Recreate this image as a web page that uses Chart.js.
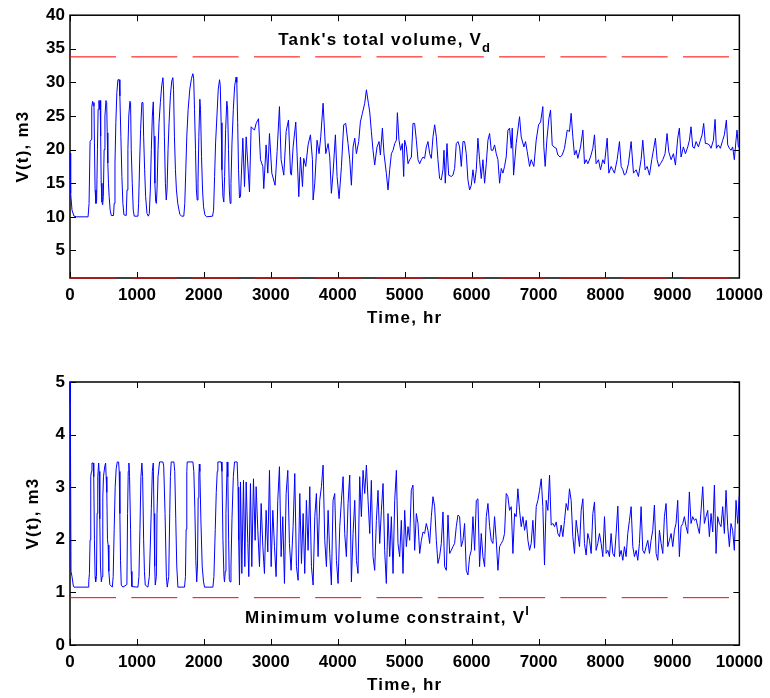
<!DOCTYPE html>
<html lang="en">
  <head>
    <meta charset="utf-8" />
    <title>Tank volume</title>
    <style>
      * { margin: 0; padding: 0; }
      body { background: #fff; width: 770px; height: 698px; overflow: hidden; }
      canvas { display: block; }
    </style>
  </head>
  <body>
    <canvas id="topChart" width="770" height="349"></canvas>
    <canvas id="bottomChart" width="770" height="349"></canvas>

    <script src="https://cdn.jsdelivr.net/npm/chart.js"></script>

    <script>
      // ticks
      const hourTicks = [0, 1000, 2000, 3000, 4000, 5000, 6000, 7000, 8000, 9000, 10000];
      const topTicks = [5, 10, 15, 20, 25, 30, 35, 40];
      const bottomTicks = [0, 1, 2, 3, 4, 5];

      // constraint levels, m3
      const totalVolume = 33.8;
      const minVolume = 0.9;

      // [hour, V(t)]
      const topVolume = [
        [0,19.5],[10,13.5],[30,11],[60,10.1],[100,10],[270,10],[285,12],[300,21.2],[318,21.5],[325,26.3],
        [338,27.2],[350,26.5],[358,27],[365,21],[375,14],[388,12],[398,12.5],[410,20],[420,26],[433,27.3],
        [440,26],[450,27.3],[458,22],[466,15],[478,12.2],[488,11.8],[498,13],[510,20],[522,25],[537,27.3],
        [548,27],[556,22.5],[565,18],[575,15],[585,13],[600,11],[617,10.2],[650,10.2],[660,12],[672,18],
        [685,24],[700,28.5],[716,30.4],[736,30.4],[745,28],[760,22],[775,16],[790,12],[806,10.3],[840,10.2],
        [852,14],[865,20],[878,25],[895,27.2],[905,27],[915,20],[930,15],[945,11],[960,10.1],[1015,10.1],
        [1025,12],[1040,18],[1055,23],[1074,27],[1090,27],[1100,22],[1115,17],[1130,13],[1150,10.5],[1170,10.1],
        [1185,10.5],[1200,14],[1215,20],[1230,25],[1244,27.1],[1255,22],[1268,15],[1280,12.3],[1290,12],[1300,14],
        [1315,20],[1330,24],[1350,27],[1370,29.5],[1388,30.7],[1398,29],[1410,22],[1425,15],[1438,12.5],[1450,14],
        [1465,20],[1480,24],[1500,28],[1520,30.2],[1537,30.7],[1547,29],[1560,22],[1575,17],[1590,14],[1610,12],
        [1640,10.4],[1665,10.1],[1700,10.1],[1715,12],[1730,17],[1745,22],[1765,26],[1790,29],[1815,30.6],[1836,31.3],
        [1848,30.5],[1860,26],[1875,20],[1888,14],[1900,12.5],[1912,15],[1925,22],[1940,27.5],[1950,26],[1965,19],
        [1980,14],[1995,11.5],[2015,10.3],[2040,10],[2130,10.1],[2145,11],[2160,16],[2175,21],[2195,25],[2215,29],
        [2234,30.4],[2245,29.5],[2258,24],[2270,17],[2285,13],[2298,12.2],[2310,16],[2325,23],[2343,27.2],[2355,26],
        [2368,20],[2380,14],[2393,12],[2405,15],[2420,21],[2440,26],[2460,29.5],[2482,30.8],[2492,30],[2505,24],
        [2518,17],[2532,12.8],[2547,13.0],[2582,21.7],[2607,14.5],[2632,21.9],[2681,13.7],[2706,23.4],[2756,22.9],[2781,23.9],
        [2816,24.6],[2846,18.5],[2881,17.5],[2895,14.2],[2930,20.7],[2955,16.5],[2980,22.4],[3015,16.5],[3064,14.7],[3094,19.7],
        [3129,26.4],[3154,18.5],[3194,16.2],[3229,22.7],[3264,24.4],[3294,16.5],[3308,16.2],[3333,20.4],[3373,24.1],[3418,13.0],
        [3443,18.9],[3473,14.5],[3492,18.7],[3522,17.5],[3557,20.7],[3592,22.2],[3622,18.5],[3632,12.5],[3657,15.0],[3691,21.4],
        [3721,19.4],[3746,21.9],[3781,26.9],[3796,24.1],[3821,19.4],[3856,20.9],[3881,18.9],[3905,13.5],[3930,16.5],[3965,22.2],
        [3990,16.0],[4020,12.7],[4055,17.5],[4089,23.7],[4119,23.9],[4154,20.9],[4179,18.5],[4204,14.7],[4229,20.4],[4254,21.7],
        [4279,19.4],[4313,21.2],[4338,24.1],[4368,25.4],[4403,26.9],[4428,28.9],[4458,26.9],[4478,25.6],[4502,22.7],[4527,19.9],
        [4552,17.7],[4567,18.9],[4587,20.4],[4617,21.2],[4637,19.2],[4667,23.2],[4691,19.4],[4726,16.5],[4751,14.0],[4776,17.0],
        [4801,19.4],[4826,19.9],[4851,20.9],[4876,21.4],[4891,25.5],[4915,21.4],[4940,19.9],[4965,20.9],[4985,16.0],[5000,21.4],
        [5025,20.4],[5050,17.9],[5075,18.5],[5100,18.9],[5124,23.9],[5149,23.9],[5174,21.4],[5199,18.5],[5224,17.9],[5249,18.5],
        [5274,18.9],[5298,18.7],[5323,20.4],[5348,21.2],[5373,19.4],[5398,18.7],[5423,21.9],[5448,23.7],[5473,21.9],[5497,18.5],
        [5522,15.7],[5547,15.5],[5572,17.0],[5587,19.9],[5607,15.0],[5632,20.9],[5657,16.2],[5696,16.0],[5721,16.2],[5746,17.2],
        [5771,20.9],[5796,21.2],[5821,20.4],[5846,17.5],[5871,21.2],[5895,21.2],[5920,19.4],[5945,15.5],[5970,14.0],[5995,14.7],
        [6020,17.0],[6045,15.0],[6070,17.0],[6094,21.7],[6119,18.5],[6144,15.7],[6169,18.5],[6194,15.0],[6219,17.9],[6244,21.4],
        [6269,22.4],[6293,19.9],[6318,19.9],[6343,20.7],[6368,19.4],[6393,18.5],[6418,15.0],[6443,17.2],[6468,16.5],[6492,17.5],
        [6517,18.9],[6542,22.9],[6567,23.2],[6592,20.2],[6607,23.2],[6627,16.2],[6666,20.9],[6716,24.9],[6741,21.9],[6781,20.4],
        [6806,21.2],[6831,19.7],[6866,17.5],[6890,18.5],[6930,17.5],[6965,21.4],[7000,23.7],[7030,24.1],[7064,26.4],[7079,20.4],
        [7099,17.5],[7124,21.4],[7154,24.6],[7179,25.9],[7204,20.7],[7229,20.4],[7264,20.2],[7288,19.2],[7323,18.9],[7353,19.2],
        [7388,20.2],[7428,22.9],[7462,22.7],[7487,25.4],[7512,21.9],[7537,19.2],[7562,19.9],[7587,18.7],[7627,20.4],[7662,22.9],
        [7686,17.9],[7711,18.5],[7736,17.9],[7776,18.9],[7811,20.2],[7836,22.2],[7860,17.9],[7895,18.5],[7925,17.0],[7960,18.5],
        [7985,17.9],[8025,21.7],[8050,16.5],[8084,17.5],[8109,17.0],[8134,16.5],[8174,18.5],[8209,21.2],[8234,17.5],[8259,17.0],
        [8283,16.2],[8308,16.5],[8343,17.9],[8383,21.2],[8418,16.5],[8458,17.0],[8492,16.0],[8532,18.5],[8557,21.4],[8592,17.0],
        [8622,17.5],[8657,16.2],[8691,18.5],[8721,20.2],[8746,21.7],[8771,18.5],[8796,17.5],[8821,17.9],[8856,18.5],[8890,19.4],
        [8920,22.4],[8945,19.7],[8980,18.5],[9015,19.4],[9045,17.7],[9079,21.7],[9104,23.2],[9129,18.9],[9164,20.4],[9194,19.4],
        [9229,20.4],[9254,21.4],[9278,23.4],[9303,20.4],[9328,20.2],[9353,21.2],[9388,20.4],[9418,21.4],[9443,22.2],[9467,23.9],
        [9492,20.9],[9517,20.9],[9552,20.7],[9577,20.2],[9612,21.4],[9637,24.5],[9657,20.2],[9686,20.7],[9716,20.2],[9751,21.4],
        [9776,22.2],[9806,24.4],[9826,20.7],[9851,20.2],[9875,19.9],[9900,20.4],[9925,18.5],[9950,21.4],[9965,22.9],[9985,20.4],
        [10000,20.5]
      ];

      // [hour, V(t)]
      const bottomVolume = [
        [0,5.0],[5,4.6],[15,1.4],[30,1.3],[50,1.12],[60,1.1],[270,1.1],[280,1.2],[290,1.36],[300,2.0],
        [310,3.2],[320,3.3],[328,3.46],[348,3.46],[355,3.2],[365,2.0],[375,1.3],[383,1.2],[395,1.3],[405,2.5],
        [415,3.2],[428,3.46],[435,3.3],[445,2.4],[455,1.5],[468,1.2],[480,1.3],[490,2.8],[500,3.2],[520,3.4],
        [532,3.46],[540,3.2],[550,2.9],[560,2.0],[570,1.9],[580,1.4],[595,1.15],[632,1.1],[645,1.3],[660,2.2],
        [675,3.0],[690,3.35],[706,3.48],[726,3.48],[735,3.3],[745,2.5],[755,1.6],[766,1.14],[791,1.1],[850,1.15],
        [860,2.5],[870,3.3],[880,3.46],[890,3.2],[905,2.2],[915,1.4],[925,1.11],[1015,1.1],[1030,1.3],[1045,2.2],
        [1060,3.2],[1074,3.46],[1085,3.2],[1100,2.0],[1112,1.4],[1124,1.14],[1164,1.1],[1185,1.3],[1200,1.9],[1215,2.6],
        [1230,3.3],[1244,3.46],[1255,2.5],[1265,1.5],[1274,1.14],[1290,1.3],[1300,2.5],[1315,3.2],[1338,3.48],[1388,3.48],
        [1400,3.4],[1420,2.5],[1440,1.3],[1453,1.1],[1475,1.3],[1490,2.5],[1500,3.2],[1512,3.48],[1552,3.48],[1565,3.3],
        [1580,2.4],[1595,1.5],[1612,1.1],[1711,1.1],[1725,1.3],[1735,2.2],[1745,3.3],[1751,3.48],[1836,3.48],[1850,3.3],
        [1865,2.6],[1880,1.6],[1893,1.2],[1905,1.5],[1915,2.8],[1925,3.2],[1932,3.44],[1940,3.3],[1955,2.4],[1975,1.5],
        [1995,1.2],[2010,1.1],[2135,1.1],[2150,1.3],[2170,2.2],[2185,2.9],[2200,3.3],[2209,3.48],[2259,3.48],[2270,3.3],
        [2285,2.0],[2300,1.3],[2308,1.2],[2320,1.4],[2330,2.5],[2348,3.48],[2358,3.2],[2370,2.0],[2380,1.25],[2392,1.2],
        [2405,1.5],[2420,2.4],[2440,3.2],[2458,3.48],[2497,3.48],[2510,3.0],[2520,2.0],[2532,1.14],[2547,3.10],[2567,1.36],
        [2592,3.13],[2612,1.49],[2632,3.10],[2657,1.93],[2671,1.30],[2696,3.07],[2716,1.49],[2741,3.16],[2766,1.99],[2781,3.01],
        [2806,2.18],[2831,1.49],[2856,2.69],[2881,1.87],[2905,1.36],[2930,2.56],[2955,1.77],[2980,3.32],[3005,1.49],[3030,2.56],
        [3055,1.87],[3079,1.30],[3104,2.75],[3129,3.39],[3154,1.68],[3179,2.44],[3204,1.17],[3229,2.88],[3254,3.32],[3278,1.93],
        [3303,1.42],[3333,2.25],[3358,3.26],[3383,1.49],[3408,1.23],[3433,2.88],[3458,1.55],[3483,2.50],[3507,1.36],[3532,2.75],
        [3557,1.80],[3582,3.01],[3607,1.49],[3632,1.14],[3657,2.44],[3681,2.88],[3706,1.68],[3731,2.75],[3756,3.01],[3781,3.42],
        [3806,1.99],[3831,1.49],[3856,2.56],[3881,1.74],[3905,1.14],[3930,2.75],[3955,2.88],[3980,1.61],[4005,1.17],[4030,2.25],
        [4055,2.75],[4080,3.20],[4104,2.12],[4129,1.68],[4154,2.69],[4179,3.23],[4204,1.20],[4229,2.12],[4254,2.75],[4279,1.61],
        [4303,1.36],[4328,3.20],[4353,2.44],[4378,3.32],[4403,2.88],[4428,3.42],[4453,2.75],[4478,2.12],[4502,3.13],[4527,1.68],
        [4552,1.42],[4577,2.37],[4602,2.94],[4627,1.93],[4652,2.56],[4677,3.07],[4701,1.80],[4726,1.17],[4751,2.50],[4776,1.68],
        [4801,2.44],[4826,1.36],[4851,2.75],[4876,3.32],[4900,1.93],[4925,1.68],[4950,2.37],[4975,1.36],[5000,2.56],[5025,1.87],
        [5050,2.25],[5075,1.99],[5099,2.94],[5124,3.04],[5149,1.80],[5174,2.50],[5199,2.31],[5224,1.74],[5249,1.99],[5274,2.15],
        [5298,2.12],[5323,2.31],[5348,2.18],[5373,1.93],[5398,2.44],[5423,2.82],[5448,2.63],[5473,1.99],[5497,1.55],[5522,1.68],
        [5547,1.93],[5572,2.53],[5597,1.49],[5622,1.42],[5647,2.47],[5672,1.74],[5696,1.80],[5721,1.87],[5746,1.93],[5771,2.25],
        [5796,2.47],[5821,2.44],[5846,1.87],[5871,1.99],[5895,2.31],[5920,1.42],[5945,1.33],[5970,1.68],[5995,1.80],[6020,2.44],
        [6045,1.80],[6070,2.75],[6094,2.78],[6119,1.49],[6144,2.12],[6169,1.68],[6194,1.49],[6219,2.44],[6244,2.69],[6269,2.25],
        [6293,1.99],[6318,1.93],[6343,2.44],[6368,1.99],[6393,1.42],[6418,1.87],[6443,1.93],[6468,1.99],[6492,2.12],[6517,2.88],
        [6542,2.82],[6567,2.56],[6592,2.63],[6617,1.74],[6642,2.50],[6666,2.44],[6691,2.97],[6716,2.56],[6741,2.25],[6766,2.44],
        [6791,2.18],[6816,2.37],[6841,1.99],[6866,1.80],[6890,1.93],[6915,2.37],[6940,1.84],[6965,2.63],[6990,2.75],[7015,2.94],
        [7040,3.16],[7064,2.63],[7089,1.52],[7114,2.75],[7139,2.56],[7164,3.23],[7189,2.28],[7214,2.31],[7239,2.25],[7264,2.34],
        [7288,2.12],[7313,2.06],[7338,2.28],[7363,2.06],[7388,2.37],[7413,2.69],[7438,2.56],[7462,2.97],[7487,2.75],[7512,2.06],
        [7537,1.74],[7562,2.37],[7587,2.12],[7612,1.87],[7637,2.56],[7662,2.78],[7686,1.93],[7711,1.71],[7736,2.12],[7761,1.99],
        [7786,1.74],[7811,2.50],[7836,2.72],[7860,1.80],[7885,1.93],[7910,2.12],[7935,1.93],[7960,1.68],[7985,2.44],[8010,1.74],
        [8035,1.80],[8059,1.68],[8084,2.12],[8109,1.74],[8134,1.68],[8159,2.12],[8184,2.64],[8209,1.68],[8234,1.80],[8259,1.61],
        [8283,1.87],[8308,1.68],[8333,2.12],[8358,2.37],[8383,2.63],[8408,1.87],[8433,1.68],[8458,1.80],[8482,1.61],[8507,1.93],
        [8532,2.63],[8557,1.80],[8582,1.74],[8607,1.87],[8632,1.99],[8657,1.74],[8681,1.99],[8706,2.18],[8731,2.66],[8756,1.74],
        [8781,1.61],[8806,2.18],[8831,1.93],[8856,1.74],[8880,2.44],[8905,2.69],[8930,1.87],[8955,1.99],[8980,2.12],[9005,1.87],
        [9030,2.18],[9054,2.31],[9079,2.75],[9104,1.68],[9129,2.25],[9154,2.31],[9179,2.44],[9204,2.25],[9229,2.12],[9253,2.91],
        [9278,2.31],[9303,2.44],[9328,2.37],[9353,2.40],[9378,2.25],[9403,2.12],[9428,2.56],[9453,3.01],[9477,2.31],[9502,2.44],
        [9527,2.56],[9552,2.06],[9577,2.50],[9602,2.15],[9627,3.04],[9652,1.74],[9676,2.44],[9701,2.31],[9726,2.25],[9751,2.63],
        [9776,2.12],[9801,2.94],[9826,2.25],[9851,1.87],[9875,2.31],[9900,2.18],[9925,1.80],[9950,2.75],[9975,2.31],[9999,2.85]
      ];

      const FONT = "'Liberation Sans', Arial, sans-serif";

      // MATLAB-like box with inward ticks, axis titles and the constraint notes
      const matlabBox = {
        id: "matlabBox",
        beforeDatasetsDraw(chart) {
          const {
            ctx,
            chartArea: { left, right, top, bottom },
            scales: { x, y },
          } = chart;
          ctx.save();
          ctx.strokeStyle = "#000";
          ctx.lineWidth = 1;
          ctx.beginPath();
          x.ticks.forEach((t) => {
            const px = Math.round(x.getPixelForValue(t.value)) + 0.5;
            ctx.moveTo(px, bottom);
            ctx.lineTo(px, bottom - 6);
            ctx.moveTo(px, top);
            ctx.lineTo(px, top + 6);
          });
          y.ticks.forEach((t) => {
            const py = Math.round(y.getPixelForValue(t.value)) + 0.5;
            ctx.moveTo(left, py);
            ctx.lineTo(left + 6, py);
            ctx.moveTo(right, py);
            ctx.lineTo(right - 6, py);
          });
          ctx.stroke();
          ctx.lineWidth = 1.5;
          ctx.strokeRect(left, top, right - left, bottom - top);
          ctx.restore();
        },
        afterDraw(chart, args, opts) {
          const {
            ctx,
            chartArea: { left, right, top, bottom },
            scales: { x, y },
          } = chart;
          ctx.save();
          ctx.fillStyle = "#000";
          ctx.letterSpacing = "1.2px";
          ctx.font = "bold 17px " + FONT;
          ctx.textAlign = "center";
          ctx.textBaseline = "middle";
          ctx.fillText("Time, hr", (left + right) / 2, bottom + 40);

          ctx.save();
          ctx.translate(opts.yTitleX, (top + bottom) / 2);
          ctx.rotate(-Math.PI / 2);
          ctx.fillText("V(t), m3", 0, 0);
          ctx.restore();

          const note = opts.note;
          const nx = x.getPixelForValue(note.hour);
          const ny = y.getPixelForValue(note.level);
          ctx.textAlign = "left";
          ctx.textBaseline = "alphabetic";
          ctx.fillText(note.text, nx, ny);
          const w = ctx.measureText(note.text).width;
          ctx.font = "bold 13px " + FONT;
          ctx.letterSpacing = "0px";
          if (note.sub) ctx.fillText(note.sub, nx + w, ny + 7);
          if (note.sup) ctx.fillText(note.sup, nx + w, ny - 8);
          ctx.restore();
        },
      };

      function levelLine(level) {
        return {
          data: [
            { x: 0, y: level },
            { x: 10000, y: level },
          ],
          borderColor: "#ff0000",
          borderWidth: 1,
          borderDash: [46, 15.3],
          pointRadius: 0,
          clip: 4,
        };
      }

      function makeChart(id, series, yTicks, yMin, yMax, padTop, axisH, yTitleX, note) {
        return new Chart(document.getElementById(id), {
          type: "line",
          data: {
            datasets: [
              {
                data: series.map(([h, v]) => ({ x: h, y: v })),
                borderColor: "#0000ff",
                borderWidth: 1,
                pointRadius: 0,
                tension: 0,
                clip: 4,
              },
              levelLine(totalVolume),
              levelLine(minVolume),
            ],
          },
          options: {
            responsive: false,
            animation: false,
            layout: { padding: { left: 0, right: 30, top: padTop, bottom: 0 } },
            plugins: {
              legend: { display: false },
              tooltip: { enabled: false },
              matlabBox: { yTitleX: yTitleX, note: note },
            },
            scales: {
              x: {
                type: "linear",
                min: 0,
                max: 10000,
                afterBuildTicks: (s) => {
                  s.ticks = hourTicks.map((v) => ({ value: v }));
                },
                afterFit: (s) => {
                  s.height = axisH;
                },
                grid: { display: false, drawTicks: false },
                border: { display: false },
                ticks: {
                  padding: 7,
                  color: "#000",
                  maxRotation: 0,
                  autoSkip: false,
                  font: { family: FONT, size: 17, weight: "bold" },
                  callback: (v) => String(v),
                },
              },
              y: {
                min: yMin,
                max: yMax,
                afterBuildTicks: (s) => {
                  s.ticks = yTicks.map((v) => ({ value: v }));
                },
                afterFit: (s) => {
                  s.width = 70;
                },
                grid: { display: false, drawTicks: false },
                border: { display: false },
                ticks: {
                  padding: 5,
                  color: "#000",
                  autoSkip: false,
                  font: { family: FONT, size: 17, weight: "bold" },
                  callback: (v) => String(v),
                },
              },
            },
          },
          plugins: [matlabBox],
        });
      }

      makeChart("topChart", topVolume, topTicks, minVolume, 40, 15, 71, 23, {
        text: "Tank's total volume, V",
        sub: "d",
        hour: 3110,
        level: 35.55,
      });

      makeChart("bottomChart", bottomVolume, bottomTicks, 0, 5, 33, 53, 33, {
        text: "Minimum volume constraint, V",
        sup: "l",
        hour: 2615,
        level: 0.42,
      });
    </script>
  </body>
</html>
